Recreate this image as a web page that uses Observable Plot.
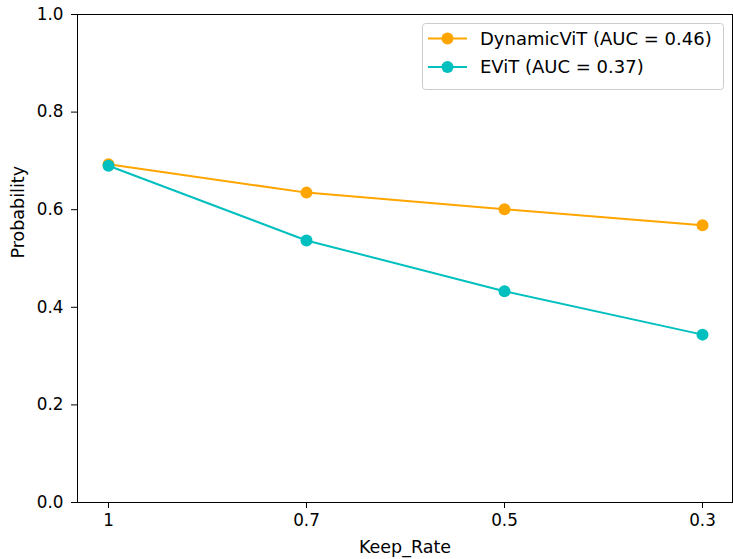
<!DOCTYPE html>
<html>
<head>
<meta charset="utf-8">
<script src="https://cdn.jsdelivr.net/npm/d3@7"></script>
<script src="https://cdn.jsdelivr.net/npm/@observablehq/plot@0.6"></script>
<style>
  html, body { margin: 0; padding: 0; background: #fff; }
  #chart { width: 733px; height: 559px; }
</style>
</head>
<body>
<div id="chart"></div>
<script>
// ---- data ----
const keepRates = ["1", "0.7", "0.5", "0.3"];
const dynamicVitValues = [0.693, 0.635, 0.601, 0.568];
const evitValues = [0.690, 0.537, 0.433, 0.344];
const seriesNames = ["DynamicViT (AUC = 0.46)", "EViT (AUC = 0.37)"];
const seriesColors = ["#FFA500", "#00BFBF"];
const yTicks = [0, 0.2, 0.4, 0.6, 0.8, 1.0];
const xLabel = "Keep_Rate";
const yLabel = "Probability";

const rows = [];
keepRates.forEach((k, i) => {
  rows.push({rate: k, value: dynamicVitValues[i], series: seriesNames[0]});
  rows.push({rate: k, value: evitValues[i], series: seriesNames[1]});
});

const FONT = "DejaVu Sans";
const FS_TICK = 16.8;
const FS_LABEL = 17.5;
const FS_LEGEND = 18;

const chart = Plot.plot({
  width: 733,
  height: 559,
  marginLeft: 77,
  marginRight: 1,
  marginTop: 14,
  marginBottom: 57,
  style: {fontFamily: FONT, fontSize: FS_TICK + "px", color: "#000", background: "#fff"},
  x: {type: "point", domain: keepRates, padding: 0.15},
  y: {domain: [0, 1]},
  color: {domain: seriesNames, range: seriesColors},
  marks: [
    Plot.frame({stroke: "#000", strokeWidth: 1}),
    Plot.axisX({ticks: keepRates, tickSize: 6, tickPadding: 6, label: null, fontSize: FS_TICK}),
    Plot.axisY({ticks: yTicks, tickFormat: d3.format(".1f"), tickSize: 6, tickPadding: 8, label: null, fontSize: FS_TICK}),
    Plot.text([xLabel], {frameAnchor: "bottom", dy: 50, text: d => d, fontSize: FS_LABEL, fill: "#000"}),
    Plot.text([yLabel], {frameAnchor: "left", dx: -59, rotate: -90, text: d => d, fontSize: FS_LABEL, fill: "#000"}),
    Plot.line(rows, {x: "rate", y: "value", z: "series", stroke: "series", strokeWidth: 2}),
    Plot.dot(rows, {x: "rate", y: "value", fill: "series", r: 6})
  ]
});

document.getElementById("chart").appendChild(chart);

// ---- legend (inside the plot, upper right) ----
const svg = d3.select(chart);
const lg = svg.append("g")
  .attr("font-family", FONT)
  .attr("font-size", FS_LEGEND)
  .attr("text-anchor", "start");
lg.append("rect")
  .attr("x", 422.5).attr("y", 23.5).attr("width", 301).attr("height", 66)
  .attr("rx", 3).attr("fill", "#fff").attr("fill-opacity", 0.8)
  .attr("stroke", "#cccccc").attr("stroke-width", 1);
seriesNames.forEach((name, i) => {
  const y = 38.5 + i * 28.5;
  lg.append("line").attr("x1", 428).attr("x2", 467).attr("y1", y).attr("y2", y)
    .attr("stroke", seriesColors[i]).attr("stroke-width", 2);
  lg.append("circle").attr("cx", 447.5).attr("cy", y).attr("r", 6).attr("fill", seriesColors[i]);
  lg.append("text").attr("x", 480).attr("y", y).attr("dy", "0.35em")
    .attr("text-anchor", "start")
    .attr("fill", "#000").text(name);
});
</script>
</body>
</html>
